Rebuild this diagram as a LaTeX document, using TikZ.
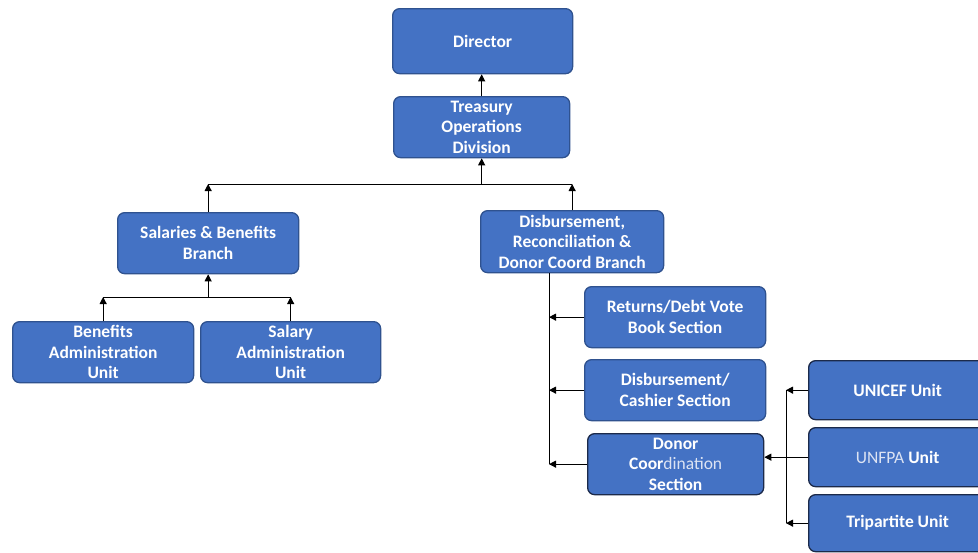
\documentclass[tikz,border=0pt]{standalone}
\usepackage{fontspec}
\setmainfont{Carlito}
\usetikzlibrary{arrows.meta}
\definecolor{boxfill}{HTML}{4472C4}
\definecolor{boxedge}{HTML}{2F528F}
\definecolor{darkedge}{HTML}{1C2A4A}
\definecolor{softtext}{HTML}{DCE3F3}
\begin{document}
\begin{tikzpicture}[x=1pt,y=-1pt,
  orgbox/.style={draw=boxedge, line width=1.3pt, fill=boxfill, rounded corners=7pt,
    text=white, font=\fontsize{17.5}{20.5}\selectfont\bfseries, align=center,
    inner sep=0pt, anchor=north west},
  link/.style={draw=black, line width=1pt},
  tip/.style={-{Triangle[length=7pt,width=7pt]}}]
\useasboundingbox (0,0) rectangle (978,552);
\clip (0,0) rectangle (978,552);
\fill[white] (0,0) rectangle (978,552);

% top levels
\node[orgbox, minimum width=180pt, minimum height=65pt] (dir) at (392,8) {Director};
\node[orgbox, minimum width=176pt, minimum height=61pt] (tod) at (393,96) {Treasury\\Operations\\Division};

% branches
\node[orgbox, minimum width=181pt, minimum height=61pt] (sbb) at (117,212) {Salaries \& Benefits\\Branch};
\node[orgbox, minimum width=183pt, minimum height=62pt] (drb) at (480,210) {Disbursement,\\Reconciliation \&\\Donor Coord Branch};

% units under salaries & benefits
\node[orgbox, minimum width=181pt, minimum height=61pt] (bau) at (12,321) {Benefits\\Administration\\Unit};
\node[orgbox, minimum width=180pt, minimum height=61pt] (sau) at (200,321) {Salary\\Administration\\Unit};

% sections under disbursement branch
\node[orgbox, minimum width=181pt, minimum height=61pt] (rdv) at (584,286) {Returns/Debt Vote\\Book Section};
\node[orgbox, minimum width=181pt, minimum height=61pt] (dcs) at (584,359) {Disbursement/\\Cashier Section};
\node[orgbox, draw=darkedge, minimum width=176pt, minimum height=61pt] (dco) at (587,433) {Donor\\Coor{\color{softtext}\mdseries dination}\\Section};

% donor units
\node[orgbox, draw=darkedge, minimum width=178pt, minimum height=59pt] (uni) at (808,360) {UNICEF Unit};
\node[orgbox, draw=darkedge, minimum width=178pt, minimum height=59pt] (unf) at (808,427) {{\color{softtext}\mdseries UNFPA} Unit};
\node[orgbox, draw=darkedge, minimum width=178pt, minimum height=57pt] (tri) at (808,494) {Tripartite Unit};

% connector rails
\coordinate (tby) at (0,184);
\coordinate (lby) at (0,297);
\coordinate (rsx) at (549,0);
\coordinate (ssx) at (786,0);

% director level
\draw[link,tip] (tod.north) -- (tod.north |- dir.south);

% branch bus
\draw[link] (sbb.north |- tby) -- (drb.north |- tby);
\draw[link,tip] (tod.south |- tby) -- (tod.south);
\draw[link,tip] (sbb.north) -- (sbb.north |- tby);
\draw[link,tip] (drb.north) -- (drb.north |- tby);

% salaries & benefits bus
\draw[link] (bau.north |- lby) -- (sau.north |- lby);
\draw[link,tip] (sbb.south |- lby) -- (sbb.south);
\draw[link,tip] (bau.north) -- (bau.north |- lby);
\draw[link,tip] (sau.north) -- (sau.north |- lby);

% disbursement spine
\draw[link] (rsx |- drb.south) -- (rsx |- dco.west);
\draw[link,tip] (rdv.west) -- (rsx |- rdv.west);
\draw[link,tip] (dcs.west) -- (rsx |- dcs.west);
\draw[link,tip] (dco.west) -- (rsx |- dco.west);

% donor unit spine
\draw[link] (ssx |- uni.west) -- (ssx |- tri.west);
\draw[link,tip] (uni.west) -- (ssx |- uni.west);
\draw[link,tip] (tri.west) -- (ssx |- tri.west);
\draw[link,tip] (unf.west) -- (dco.east |- unf.west);
\end{tikzpicture}
\end{document}
